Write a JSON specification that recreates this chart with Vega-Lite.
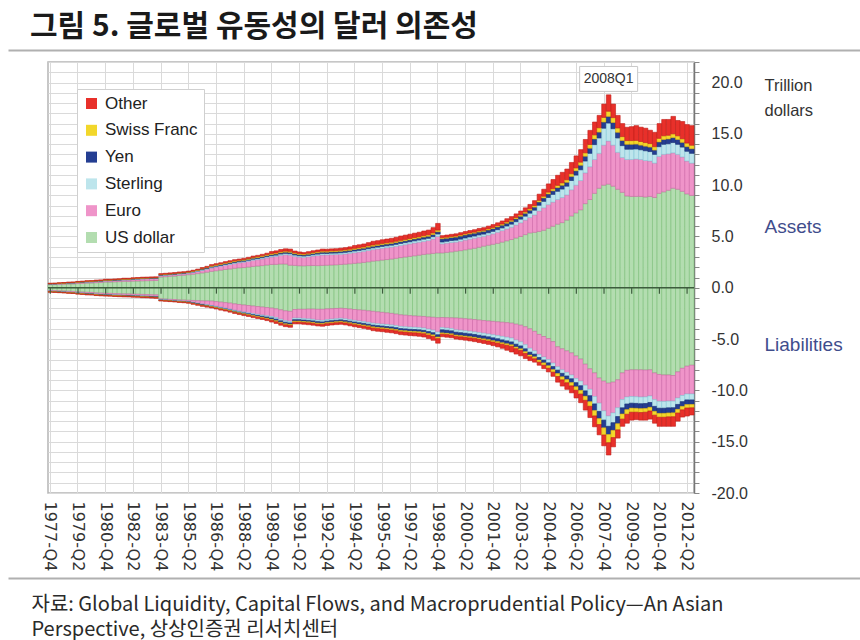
{
  "$schema": "https://vega.github.io/schema/vega-lite/v6.json",
  "width": 646,
  "height": 431,
  "autosize": {"type": "none"},
  "padding": {"left": 48, "top": 62, "right": 166, "bottom": 147},
  "background": "white",
  "title": {
    "text": "그림 5. 글로벌 유동성의 달러 의존성",
    "anchor": "start",
    "frame": "group",
    "dx": -18,
    "offset": 7,
    "font": "Noto Sans CJK KR",
    "fontSize": 30,
    "fontWeight": "bold",
    "color": "#1a1a1a"
  },
  "config": {
    "view": {"stroke": "#b5b5b5", "strokeWidth": 1.5},
    "font": "Liberation Sans"
  },
  "datasets": {
    "cur": [
      {"code": "usd", "name": "US dollar", "ord": 1},
      {"code": "eur", "name": "Euro", "ord": 2},
      {"code": "gbp", "name": "Sterling", "ord": 3},
      {"code": "jpy", "name": "Yen", "ord": 4},
      {"code": "chf", "name": "Swiss Franc", "ord": 5},
      {"code": "oth", "name": "Other", "ord": 6}
    ],
    "marks": [
      {"q": "1977-Q4"}, {"q": "1979-Q2"}, {"q": "1980-Q4"}, {"q": "1982-Q2"}, {"q": "1983-Q4"}, {"q": "1985-Q2"},
      {"q": "1986-Q4"}, {"q": "1988-Q2"}, {"q": "1989-Q4"}, {"q": "1991-Q2"}, {"q": "1992-Q4"}, {"q": "1994-Q2"},
      {"q": "1995-Q4"}, {"q": "1997-Q2"}, {"q": "1998-Q4"}, {"q": "2000-Q2"}, {"q": "2001-Q4"}, {"q": "2003-Q2"},
      {"q": "2004-Q4"}, {"q": "2006-Q2"}, {"q": "2007-Q4"}, {"q": "2009-Q2"}, {"q": "2010-Q4"}, {"q": "2012-Q2"}
    ]
  },
  "data": {"values": [
    {"q":"1977-Q4","s":"A","usd":0.30,"eur":0.05,"gbp":0.02,"jpy":0.01,"chf":0.03,"oth":0.04},
    {"q":"1978-Q1","s":"A","usd":0.31,"eur":0.05,"gbp":0.02,"jpy":0.01,"chf":0.03,"oth":0.04},
    {"q":"1978-Q2","s":"A","usd":0.33,"eur":0.06,"gbp":0.02,"jpy":0.01,"chf":0.03,"oth":0.04},
    {"q":"1978-Q3","s":"A","usd":0.35,"eur":0.06,"gbp":0.02,"jpy":0.01,"chf":0.03,"oth":0.04},
    {"q":"1978-Q4","s":"A","usd":0.37,"eur":0.07,"gbp":0.02,"jpy":0.02,"chf":0.03,"oth":0.05},
    {"q":"1979-Q1","s":"A","usd":0.38,"eur":0.07,"gbp":0.02,"jpy":0.02,"chf":0.03,"oth":0.05},
    {"q":"1979-Q2","s":"A","usd":0.41,"eur":0.08,"gbp":0.02,"jpy":0.02,"chf":0.04,"oth":0.05},
    {"q":"1979-Q3","s":"A","usd":0.43,"eur":0.08,"gbp":0.03,"jpy":0.02,"chf":0.04,"oth":0.05},
    {"q":"1979-Q4","s":"A","usd":0.46,"eur":0.09,"gbp":0.03,"jpy":0.02,"chf":0.04,"oth":0.05},
    {"q":"1980-Q1","s":"A","usd":0.47,"eur":0.09,"gbp":0.03,"jpy":0.02,"chf":0.04,"oth":0.05},
    {"q":"1980-Q2","s":"A","usd":0.50,"eur":0.10,"gbp":0.03,"jpy":0.02,"chf":0.04,"oth":0.06},
    {"q":"1980-Q3","s":"A","usd":0.52,"eur":0.10,"gbp":0.03,"jpy":0.02,"chf":0.04,"oth":0.06},
    {"q":"1980-Q4","s":"A","usd":0.56,"eur":0.11,"gbp":0.03,"jpy":0.03,"chf":0.04,"oth":0.06},
    {"q":"1981-Q1","s":"A","usd":0.56,"eur":0.11,"gbp":0.03,"jpy":0.03,"chf":0.04,"oth":0.06},
    {"q":"1981-Q2","s":"A","usd":0.58,"eur":0.12,"gbp":0.03,"jpy":0.03,"chf":0.04,"oth":0.06},
    {"q":"1981-Q3","s":"A","usd":0.60,"eur":0.12,"gbp":0.03,"jpy":0.03,"chf":0.04,"oth":0.06},
    {"q":"1981-Q4","s":"A","usd":0.63,"eur":0.13,"gbp":0.03,"jpy":0.03,"chf":0.04,"oth":0.07},
    {"q":"1982-Q1","s":"A","usd":0.62,"eur":0.14,"gbp":0.03,"jpy":0.03,"chf":0.04,"oth":0.07},
    {"q":"1982-Q2","s":"A","usd":0.65,"eur":0.15,"gbp":0.04,"jpy":0.03,"chf":0.04,"oth":0.07},
    {"q":"1982-Q3","s":"A","usd":0.66,"eur":0.16,"gbp":0.04,"jpy":0.03,"chf":0.04,"oth":0.07},
    {"q":"1982-Q4","s":"A","usd":0.68,"eur":0.17,"gbp":0.04,"jpy":0.03,"chf":0.04,"oth":0.07},
    {"q":"1983-Q1","s":"A","usd":0.69,"eur":0.17,"gbp":0.04,"jpy":0.03,"chf":0.04,"oth":0.07},
    {"q":"1983-Q2","s":"A","usd":0.70,"eur":0.18,"gbp":0.04,"jpy":0.03,"chf":0.04,"oth":0.07},
    {"q":"1983-Q3","s":"A","usd":0.71,"eur":0.18,"gbp":0.04,"jpy":0.03,"chf":0.04,"oth":0.07},
    {"q":"1983-Q4","s":"A","usd":1.05,"eur":0.12,"gbp":0.05,"jpy":0.04,"chf":0.04,"oth":0.08},
    {"q":"1984-Q1","s":"A","usd":1.08,"eur":0.12,"gbp":0.05,"jpy":0.04,"chf":0.04,"oth":0.08},
    {"q":"1984-Q2","s":"A","usd":1.12,"eur":0.12,"gbp":0.05,"jpy":0.04,"chf":0.04,"oth":0.08},
    {"q":"1984-Q3","s":"A","usd":1.14,"eur":0.13,"gbp":0.05,"jpy":0.04,"chf":0.04,"oth":0.08},
    {"q":"1984-Q4","s":"A","usd":1.20,"eur":0.13,"gbp":0.05,"jpy":0.04,"chf":0.04,"oth":0.08},
    {"q":"1985-Q1","s":"A","usd":1.22,"eur":0.14,"gbp":0.05,"jpy":0.04,"chf":0.04,"oth":0.08},
    {"q":"1985-Q2","s":"A","usd":1.28,"eur":0.14,"gbp":0.05,"jpy":0.04,"chf":0.04,"oth":0.08},
    {"q":"1985-Q3","s":"A","usd":1.32,"eur":0.17,"gbp":0.05,"jpy":0.05,"chf":0.04,"oth":0.08},
    {"q":"1985-Q4","s":"A","usd":1.38,"eur":0.20,"gbp":0.06,"jpy":0.05,"chf":0.05,"oth":0.08},
    {"q":"1986-Q1","s":"A","usd":1.45,"eur":0.24,"gbp":0.07,"jpy":0.06,"chf":0.06,"oth":0.09},
    {"q":"1986-Q2","s":"A","usd":1.52,"eur":0.28,"gbp":0.07,"jpy":0.06,"chf":0.06,"oth":0.10},
    {"q":"1986-Q3","s":"A","usd":1.60,"eur":0.33,"gbp":0.08,"jpy":0.07,"chf":0.07,"oth":0.11},
    {"q":"1986-Q4","s":"A","usd":1.66,"eur":0.36,"gbp":0.08,"jpy":0.07,"chf":0.07,"oth":0.11},
    {"q":"1987-Q1","s":"A","usd":1.72,"eur":0.38,"gbp":0.08,"jpy":0.08,"chf":0.07,"oth":0.11},
    {"q":"1987-Q2","s":"A","usd":1.78,"eur":0.41,"gbp":0.09,"jpy":0.08,"chf":0.07,"oth":0.12},
    {"q":"1987-Q3","s":"A","usd":1.84,"eur":0.43,"gbp":0.09,"jpy":0.08,"chf":0.08,"oth":0.12},
    {"q":"1987-Q4","s":"A","usd":1.90,"eur":0.46,"gbp":0.09,"jpy":0.09,"chf":0.08,"oth":0.12},
    {"q":"1988-Q1","s":"A","usd":1.95,"eur":0.49,"gbp":0.09,"jpy":0.08,"chf":0.08,"oth":0.11},
    {"q":"1988-Q2","s":"A","usd":1.97,"eur":0.52,"gbp":0.09,"jpy":0.09,"chf":0.08,"oth":0.12},
    {"q":"1988-Q3","s":"A","usd":2.02,"eur":0.56,"gbp":0.10,"jpy":0.09,"chf":0.08,"oth":0.12},
    {"q":"1988-Q4","s":"A","usd":2.08,"eur":0.60,"gbp":0.10,"jpy":0.10,"chf":0.08,"oth":0.13},
    {"q":"1989-Q1","s":"A","usd":2.12,"eur":0.62,"gbp":0.10,"jpy":0.10,"chf":0.09,"oth":0.13},
    {"q":"1989-Q2","s":"A","usd":2.16,"eur":0.66,"gbp":0.11,"jpy":0.10,"chf":0.09,"oth":0.14},
    {"q":"1989-Q3","s":"A","usd":2.22,"eur":0.70,"gbp":0.11,"jpy":0.11,"chf":0.09,"oth":0.14},
    {"q":"1989-Q4","s":"A","usd":2.27,"eur":0.73,"gbp":0.12,"jpy":0.11,"chf":0.10,"oth":0.20},
    {"q":"1990-Q1","s":"A","usd":2.28,"eur":0.78,"gbp":0.12,"jpy":0.11,"chf":0.10,"oth":0.21},
    {"q":"1990-Q2","s":"A","usd":2.32,"eur":0.84,"gbp":0.13,"jpy":0.12,"chf":0.10,"oth":0.22},
    {"q":"1990-Q3","s":"A","usd":2.32,"eur":0.90,"gbp":0.13,"jpy":0.12,"chf":0.10,"oth":0.23},
    {"q":"1990-Q4","s":"A","usd":2.20,"eur":0.98,"gbp":0.14,"jpy":0.13,"chf":0.10,"oth":0.22},
    {"q":"1991-Q1","s":"A","usd":2.18,"eur":0.88,"gbp":0.13,"jpy":0.12,"chf":0.09,"oth":0.18},
    {"q":"1991-Q2","s":"A","usd":2.15,"eur":0.84,"gbp":0.13,"jpy":0.12,"chf":0.09,"oth":0.16},
    {"q":"1991-Q3","s":"A","usd":2.14,"eur":0.82,"gbp":0.13,"jpy":0.11,"chf":0.09,"oth":0.15},
    {"q":"1991-Q4","s":"A","usd":2.16,"eur":0.86,"gbp":0.13,"jpy":0.12,"chf":0.09,"oth":0.16},
    {"q":"1992-Q1","s":"A","usd":2.17,"eur":0.92,"gbp":0.13,"jpy":0.12,"chf":0.10,"oth":0.17},
    {"q":"1992-Q2","s":"A","usd":2.16,"eur":0.98,"gbp":0.14,"jpy":0.12,"chf":0.10,"oth":0.18},
    {"q":"1992-Q3","s":"A","usd":2.18,"eur":1.02,"gbp":0.14,"jpy":0.13,"chf":0.10,"oth":0.20},
    {"q":"1992-Q4","s":"A","usd":2.20,"eur":1.00,"gbp":0.14,"jpy":0.13,"chf":0.10,"oth":0.19},
    {"q":"1993-Q1","s":"A","usd":2.22,"eur":1.01,"gbp":0.14,"jpy":0.13,"chf":0.10,"oth":0.19},
    {"q":"1993-Q2","s":"A","usd":2.24,"eur":1.00,"gbp":0.14,"jpy":0.13,"chf":0.10,"oth":0.20},
    {"q":"1993-Q3","s":"A","usd":2.27,"eur":0.99,"gbp":0.15,"jpy":0.14,"chf":0.10,"oth":0.21},
    {"q":"1993-Q4","s":"A","usd":2.30,"eur":1.00,"gbp":0.15,"jpy":0.14,"chf":0.10,"oth":0.22},
    {"q":"1994-Q1","s":"A","usd":2.34,"eur":1.02,"gbp":0.15,"jpy":0.14,"chf":0.11,"oth":0.23},
    {"q":"1994-Q2","s":"A","usd":2.38,"eur":1.04,"gbp":0.16,"jpy":0.15,"chf":0.11,"oth":0.28},
    {"q":"1994-Q3","s":"A","usd":2.42,"eur":1.06,"gbp":0.16,"jpy":0.15,"chf":0.11,"oth":0.29},
    {"q":"1994-Q4","s":"A","usd":2.47,"eur":1.08,"gbp":0.16,"jpy":0.15,"chf":0.11,"oth":0.30},
    {"q":"1995-Q1","s":"A","usd":2.53,"eur":1.10,"gbp":0.17,"jpy":0.16,"chf":0.12,"oth":0.32},
    {"q":"1995-Q2","s":"A","usd":2.60,"eur":1.12,"gbp":0.17,"jpy":0.16,"chf":0.12,"oth":0.36},
    {"q":"1995-Q3","s":"A","usd":2.64,"eur":1.14,"gbp":0.18,"jpy":0.16,"chf":0.12,"oth":0.35},
    {"q":"1995-Q4","s":"A","usd":2.70,"eur":1.15,"gbp":0.18,"jpy":0.17,"chf":0.12,"oth":0.36},
    {"q":"1996-Q1","s":"A","usd":2.75,"eur":1.16,"gbp":0.18,"jpy":0.17,"chf":0.12,"oth":0.37},
    {"q":"1996-Q2","s":"A","usd":2.80,"eur":1.16,"gbp":0.19,"jpy":0.17,"chf":0.12,"oth":0.38},
    {"q":"1996-Q3","s":"A","usd":2.87,"eur":1.17,"gbp":0.19,"jpy":0.18,"chf":0.12,"oth":0.39},
    {"q":"1996-Q4","s":"A","usd":2.94,"eur":1.18,"gbp":0.20,"jpy":0.18,"chf":0.12,"oth":0.42},
    {"q":"1997-Q1","s":"A","usd":3.00,"eur":1.20,"gbp":0.20,"jpy":0.18,"chf":0.13,"oth":0.42},
    {"q":"1997-Q2","s":"A","usd":3.06,"eur":1.22,"gbp":0.20,"jpy":0.19,"chf":0.13,"oth":0.42},
    {"q":"1997-Q3","s":"A","usd":3.12,"eur":1.24,"gbp":0.21,"jpy":0.19,"chf":0.13,"oth":0.43},
    {"q":"1997-Q4","s":"A","usd":3.18,"eur":1.26,"gbp":0.21,"jpy":0.19,"chf":0.13,"oth":0.44},
    {"q":"1998-Q1","s":"A","usd":3.25,"eur":1.27,"gbp":0.22,"jpy":0.20,"chf":0.13,"oth":0.46},
    {"q":"1998-Q2","s":"A","usd":3.30,"eur":1.30,"gbp":0.22,"jpy":0.20,"chf":0.14,"oth":0.46},
    {"q":"1998-Q3","s":"A","usd":3.35,"eur":1.40,"gbp":0.23,"jpy":0.21,"chf":0.15,"oth":0.52},
    {"q":"1998-Q4","s":"A","usd":3.40,"eur":1.60,"gbp":0.24,"jpy":0.22,"chf":0.16,"oth":0.65},
    {"q":"1999-Q1","s":"A","usd":3.40,"eur":0.88,"gbp":0.18,"jpy":0.32,"chf":0.10,"oth":0.20},
    {"q":"1999-Q2","s":"A","usd":3.45,"eur":0.90,"gbp":0.18,"jpy":0.30,"chf":0.10,"oth":0.21},
    {"q":"1999-Q3","s":"A","usd":3.50,"eur":0.91,"gbp":0.19,"jpy":0.30,"chf":0.10,"oth":0.21},
    {"q":"1999-Q4","s":"A","usd":3.57,"eur":0.88,"gbp":0.19,"jpy":0.30,"chf":0.10,"oth":0.22},
    {"q":"2000-Q1","s":"A","usd":3.62,"eur":0.92,"gbp":0.20,"jpy":0.30,"chf":0.10,"oth":0.23},
    {"q":"2000-Q2","s":"A","usd":3.70,"eur":0.95,"gbp":0.20,"jpy":0.30,"chf":0.10,"oth":0.23},
    {"q":"2000-Q3","s":"A","usd":3.78,"eur":0.96,"gbp":0.21,"jpy":0.29,"chf":0.10,"oth":0.24},
    {"q":"2000-Q4","s":"A","usd":3.85,"eur":0.98,"gbp":0.21,"jpy":0.28,"chf":0.10,"oth":0.24},
    {"q":"2001-Q1","s":"A","usd":3.95,"eur":0.98,"gbp":0.22,"jpy":0.28,"chf":0.10,"oth":0.25},
    {"q":"2001-Q2","s":"A","usd":4.06,"eur":0.95,"gbp":0.22,"jpy":0.27,"chf":0.10,"oth":0.26},
    {"q":"2001-Q3","s":"A","usd":4.15,"eur":0.98,"gbp":0.23,"jpy":0.27,"chf":0.11,"oth":0.27},
    {"q":"2001-Q4","s":"A","usd":4.24,"eur":1.02,"gbp":0.24,"jpy":0.27,"chf":0.11,"oth":0.28},
    {"q":"2002-Q1","s":"A","usd":4.33,"eur":1.08,"gbp":0.25,"jpy":0.27,"chf":0.11,"oth":0.29},
    {"q":"2002-Q2","s":"A","usd":4.45,"eur":1.12,"gbp":0.26,"jpy":0.27,"chf":0.11,"oth":0.30},
    {"q":"2002-Q3","s":"A","usd":4.58,"eur":1.16,"gbp":0.28,"jpy":0.27,"chf":0.12,"oth":0.32},
    {"q":"2002-Q4","s":"A","usd":4.70,"eur":1.20,"gbp":0.30,"jpy":0.27,"chf":0.12,"oth":0.34},
    {"q":"2003-Q1","s":"A","usd":4.85,"eur":1.27,"gbp":0.32,"jpy":0.28,"chf":0.12,"oth":0.36},
    {"q":"2003-Q2","s":"A","usd":5.00,"eur":1.34,"gbp":0.35,"jpy":0.28,"chf":0.13,"oth":0.38},
    {"q":"2003-Q3","s":"A","usd":5.18,"eur":1.42,"gbp":0.38,"jpy":0.28,"chf":0.13,"oth":0.40},
    {"q":"2003-Q4","s":"A","usd":5.35,"eur":1.50,"gbp":0.42,"jpy":0.29,"chf":0.14,"oth":0.42},
    {"q":"2004-Q1","s":"A","usd":5.40,"eur":1.70,"gbp":0.46,"jpy":0.30,"chf":0.15,"oth":0.48},
    {"q":"2004-Q2","s":"A","usd":5.49,"eur":2.00,"gbp":0.55,"jpy":0.32,"chf":0.16,"oth":0.60},
    {"q":"2004-Q3","s":"A","usd":5.60,"eur":2.20,"gbp":0.62,"jpy":0.33,"chf":0.17,"oth":0.68},
    {"q":"2004-Q4","s":"A","usd":5.80,"eur":2.30,"gbp":0.70,"jpy":0.34,"chf":0.18,"oth":0.80},
    {"q":"2005-Q1","s":"A","usd":6.00,"eur":2.35,"gbp":0.75,"jpy":0.35,"chf":0.20,"oth":0.90},
    {"q":"2005-Q2","s":"A","usd":6.20,"eur":2.40,"gbp":0.80,"jpy":0.36,"chf":0.22,"oth":0.98},
    {"q":"2005-Q3","s":"A","usd":6.35,"eur":2.45,"gbp":0.82,"jpy":0.37,"chf":0.23,"oth":1.03},
    {"q":"2005-Q4","s":"A","usd":6.60,"eur":2.45,"gbp":0.85,"jpy":0.38,"chf":0.24,"oth":1.05},
    {"q":"2006-Q1","s":"A","usd":7.00,"eur":2.55,"gbp":0.90,"jpy":0.40,"chf":0.26,"oth":1.10},
    {"q":"2006-Q2","s":"A","usd":7.30,"eur":2.70,"gbp":0.98,"jpy":0.42,"chf":0.28,"oth":1.17},
    {"q":"2006-Q3","s":"A","usd":7.60,"eur":2.85,"gbp":1.05,"jpy":0.44,"chf":0.30,"oth":1.22},
    {"q":"2006-Q4","s":"A","usd":8.20,"eur":3.00,"gbp":1.15,"jpy":0.47,"chf":0.33,"oth":1.30},
    {"q":"2007-Q1","s":"A","usd":8.60,"eur":3.20,"gbp":1.30,"jpy":0.50,"chf":0.36,"oth":1.38},
    {"q":"2007-Q2","s":"A","usd":9.20,"eur":3.30,"gbp":1.45,"jpy":0.55,"chf":0.40,"oth":1.25},
    {"q":"2007-Q3","s":"A","usd":9.70,"eur":3.40,"gbp":1.50,"jpy":0.57,"chf":0.42,"oth":1.21},
    {"q":"2007-Q4","s":"A","usd":10.00,"eur":3.90,"gbp":1.65,"jpy":0.60,"chf":0.45,"oth":1.30},
    {"q":"2008-Q1","s":"A","usd":10.10,"eur":4.20,"gbp":1.75,"jpy":0.65,"chf":0.50,"oth":1.60},
    {"q":"2008-Q2","s":"A","usd":9.90,"eur":4.00,"gbp":1.60,"jpy":0.60,"chf":0.48,"oth":1.32},
    {"q":"2008-Q3","s":"A","usd":9.60,"eur":3.60,"gbp":1.40,"jpy":0.55,"chf":0.42,"oth":1.23},
    {"q":"2008-Q4","s":"A","usd":9.30,"eur":3.40,"gbp":1.15,"jpy":0.50,"chf":0.38,"oth":1.27},
    {"q":"2009-Q1","s":"A","usd":8.95,"eur":3.55,"gbp":1.00,"jpy":0.48,"chf":0.36,"oth":1.30},
    {"q":"2009-Q2","s":"A","usd":8.90,"eur":3.60,"gbp":1.00,"jpy":0.48,"chf":0.36,"oth":1.36},
    {"q":"2009-Q3","s":"A","usd":8.90,"eur":3.65,"gbp":0.98,"jpy":0.47,"chf":0.36,"oth":1.44},
    {"q":"2009-Q4","s":"A","usd":8.90,"eur":3.60,"gbp":0.95,"jpy":0.45,"chf":0.35,"oth":1.40},
    {"q":"2010-Q1","s":"A","usd":8.85,"eur":3.55,"gbp":0.95,"jpy":0.45,"chf":0.35,"oth":1.40},
    {"q":"2010-Q2","s":"A","usd":8.90,"eur":3.45,"gbp":0.92,"jpy":0.44,"chf":0.34,"oth":1.30},
    {"q":"2010-Q3","s":"A","usd":8.80,"eur":3.35,"gbp":0.85,"jpy":0.42,"chf":0.33,"oth":1.40},
    {"q":"2010-Q4","s":"A","usd":9.20,"eur":3.60,"gbp":0.95,"jpy":0.46,"chf":0.35,"oth":1.44},
    {"q":"2011-Q1","s":"A","usd":9.35,"eur":3.65,"gbp":0.98,"jpy":0.47,"chf":0.36,"oth":1.59},
    {"q":"2011-Q2","s":"A","usd":9.50,"eur":3.55,"gbp":0.98,"jpy":0.47,"chf":0.36,"oth":1.54},
    {"q":"2011-Q3","s":"A","usd":9.70,"eur":3.45,"gbp":1.00,"jpy":0.48,"chf":0.37,"oth":1.70},
    {"q":"2011-Q4","s":"A","usd":9.60,"eur":3.40,"gbp":0.98,"jpy":0.47,"chf":0.36,"oth":1.49},
    {"q":"2012-Q1","s":"A","usd":9.40,"eur":3.35,"gbp":0.96,"jpy":0.46,"chf":0.35,"oth":1.68},
    {"q":"2012-Q2","s":"A","usd":9.15,"eur":3.20,"gbp":0.95,"jpy":0.45,"chf":0.35,"oth":1.80},
    {"q":"2012-Q3","s":"A","usd":9.00,"eur":3.15,"gbp":0.95,"jpy":0.45,"chf":0.34,"oth":1.91},
    {"q":"1977-Q4","s":"L","usd":-0.26,"eur":-0.06,"gbp":-0.03,"jpy":-0.02,"chf":-0.03,"oth":-0.03},
    {"q":"1978-Q1","s":"L","usd":-0.28,"eur":-0.06,"gbp":-0.03,"jpy":-0.02,"chf":-0.03,"oth":-0.03},
    {"q":"1978-Q2","s":"L","usd":-0.30,"eur":-0.07,"gbp":-0.03,"jpy":-0.02,"chf":-0.03,"oth":-0.03},
    {"q":"1978-Q3","s":"L","usd":-0.32,"eur":-0.07,"gbp":-0.03,"jpy":-0.02,"chf":-0.03,"oth":-0.04},
    {"q":"1978-Q4","s":"L","usd":-0.34,"eur":-0.08,"gbp":-0.03,"jpy":-0.02,"chf":-0.03,"oth":-0.04},
    {"q":"1979-Q1","s":"L","usd":-0.36,"eur":-0.08,"gbp":-0.03,"jpy":-0.02,"chf":-0.03,"oth":-0.04},
    {"q":"1979-Q2","s":"L","usd":-0.40,"eur":-0.09,"gbp":-0.03,"jpy":-0.02,"chf":-0.04,"oth":-0.04},
    {"q":"1979-Q3","s":"L","usd":-0.42,"eur":-0.09,"gbp":-0.03,"jpy":-0.03,"chf":-0.04,"oth":-0.04},
    {"q":"1979-Q4","s":"L","usd":-0.45,"eur":-0.10,"gbp":-0.03,"jpy":-0.03,"chf":-0.04,"oth":-0.05},
    {"q":"1980-Q1","s":"L","usd":-0.46,"eur":-0.10,"gbp":-0.03,"jpy":-0.03,"chf":-0.04,"oth":-0.05},
    {"q":"1980-Q2","s":"L","usd":-0.50,"eur":-0.10,"gbp":-0.04,"jpy":-0.03,"chf":-0.04,"oth":-0.05},
    {"q":"1980-Q3","s":"L","usd":-0.52,"eur":-0.11,"gbp":-0.04,"jpy":-0.03,"chf":-0.04,"oth":-0.05},
    {"q":"1980-Q4","s":"L","usd":-0.54,"eur":-0.11,"gbp":-0.04,"jpy":-0.03,"chf":-0.04,"oth":-0.05},
    {"q":"1981-Q1","s":"L","usd":-0.55,"eur":-0.11,"gbp":-0.04,"jpy":-0.03,"chf":-0.04,"oth":-0.05},
    {"q":"1981-Q2","s":"L","usd":-0.57,"eur":-0.12,"gbp":-0.04,"jpy":-0.03,"chf":-0.04,"oth":-0.05},
    {"q":"1981-Q3","s":"L","usd":-0.58,"eur":-0.12,"gbp":-0.04,"jpy":-0.03,"chf":-0.04,"oth":-0.06},
    {"q":"1981-Q4","s":"L","usd":-0.60,"eur":-0.12,"gbp":-0.04,"jpy":-0.03,"chf":-0.04,"oth":-0.06},
    {"q":"1982-Q1","s":"L","usd":-0.60,"eur":-0.13,"gbp":-0.04,"jpy":-0.03,"chf":-0.04,"oth":-0.06},
    {"q":"1982-Q2","s":"L","usd":-0.62,"eur":-0.13,"gbp":-0.04,"jpy":-0.03,"chf":-0.04,"oth":-0.06},
    {"q":"1982-Q3","s":"L","usd":-0.63,"eur":-0.13,"gbp":-0.04,"jpy":-0.03,"chf":-0.04,"oth":-0.06},
    {"q":"1982-Q4","s":"L","usd":-0.65,"eur":-0.14,"gbp":-0.04,"jpy":-0.04,"chf":-0.04,"oth":-0.06},
    {"q":"1983-Q1","s":"L","usd":-0.66,"eur":-0.14,"gbp":-0.04,"jpy":-0.04,"chf":-0.04,"oth":-0.06},
    {"q":"1983-Q2","s":"L","usd":-0.68,"eur":-0.14,"gbp":-0.04,"jpy":-0.04,"chf":-0.04,"oth":-0.07},
    {"q":"1983-Q3","s":"L","usd":-0.69,"eur":-0.15,"gbp":-0.04,"jpy":-0.04,"chf":-0.04,"oth":-0.07},
    {"q":"1983-Q4","s":"L","usd":-1.08,"eur":-0.08,"gbp":-0.03,"jpy":-0.03,"chf":-0.03,"oth":-0.04},
    {"q":"1984-Q1","s":"L","usd":-1.10,"eur":-0.08,"gbp":-0.03,"jpy":-0.03,"chf":-0.03,"oth":-0.05},
    {"q":"1984-Q2","s":"L","usd":-1.13,"eur":-0.08,"gbp":-0.03,"jpy":-0.03,"chf":-0.03,"oth":-0.05},
    {"q":"1984-Q3","s":"L","usd":-1.15,"eur":-0.09,"gbp":-0.04,"jpy":-0.03,"chf":-0.03,"oth":-0.05},
    {"q":"1984-Q4","s":"L","usd":-1.18,"eur":-0.09,"gbp":-0.04,"jpy":-0.03,"chf":-0.04,"oth":-0.05},
    {"q":"1985-Q1","s":"L","usd":-1.20,"eur":-0.10,"gbp":-0.04,"jpy":-0.03,"chf":-0.04,"oth":-0.05},
    {"q":"1985-Q2","s":"L","usd":-1.22,"eur":-0.12,"gbp":-0.04,"jpy":-0.03,"chf":-0.04,"oth":-0.06},
    {"q":"1985-Q3","s":"L","usd":-1.24,"eur":-0.18,"gbp":-0.05,"jpy":-0.04,"chf":-0.04,"oth":-0.06},
    {"q":"1985-Q4","s":"L","usd":-1.26,"eur":-0.24,"gbp":-0.05,"jpy":-0.04,"chf":-0.05,"oth":-0.07},
    {"q":"1986-Q1","s":"L","usd":-1.28,"eur":-0.30,"gbp":-0.06,"jpy":-0.05,"chf":-0.05,"oth":-0.07},
    {"q":"1986-Q2","s":"L","usd":-1.29,"eur":-0.36,"gbp":-0.06,"jpy":-0.05,"chf":-0.05,"oth":-0.08},
    {"q":"1986-Q3","s":"L","usd":-1.30,"eur":-0.43,"gbp":-0.06,"jpy":-0.05,"chf":-0.05,"oth":-0.08},
    {"q":"1986-Q4","s":"L","usd":-1.35,"eur":-0.46,"gbp":-0.07,"jpy":-0.05,"chf":-0.06,"oth":-0.08},
    {"q":"1987-Q1","s":"L","usd":-1.40,"eur":-0.50,"gbp":-0.07,"jpy":-0.06,"chf":-0.06,"oth":-0.09},
    {"q":"1987-Q2","s":"L","usd":-1.45,"eur":-0.54,"gbp":-0.07,"jpy":-0.06,"chf":-0.06,"oth":-0.09},
    {"q":"1987-Q3","s":"L","usd":-1.50,"eur":-0.58,"gbp":-0.08,"jpy":-0.06,"chf":-0.06,"oth":-0.10},
    {"q":"1987-Q4","s":"L","usd":-1.57,"eur":-0.62,"gbp":-0.08,"jpy":-0.07,"chf":-0.07,"oth":-0.10},
    {"q":"1988-Q1","s":"L","usd":-1.63,"eur":-0.65,"gbp":-0.08,"jpy":-0.07,"chf":-0.07,"oth":-0.11},
    {"q":"1988-Q2","s":"L","usd":-1.68,"eur":-0.68,"gbp":-0.09,"jpy":-0.08,"chf":-0.07,"oth":-0.11},
    {"q":"1988-Q3","s":"L","usd":-1.73,"eur":-0.71,"gbp":-0.09,"jpy":-0.08,"chf":-0.07,"oth":-0.12},
    {"q":"1988-Q4","s":"L","usd":-1.78,"eur":-0.74,"gbp":-0.10,"jpy":-0.09,"chf":-0.08,"oth":-0.12},
    {"q":"1989-Q1","s":"L","usd":-1.83,"eur":-0.76,"gbp":-0.10,"jpy":-0.10,"chf":-0.08,"oth":-0.13},
    {"q":"1989-Q2","s":"L","usd":-1.88,"eur":-0.78,"gbp":-0.11,"jpy":-0.11,"chf":-0.08,"oth":-0.13},
    {"q":"1989-Q3","s":"L","usd":-1.93,"eur":-0.80,"gbp":-0.12,"jpy":-0.12,"chf":-0.09,"oth":-0.14},
    {"q":"1989-Q4","s":"L","usd":-1.98,"eur":-0.82,"gbp":-0.14,"jpy":-0.14,"chf":-0.10,"oth":-0.16},
    {"q":"1990-Q1","s":"L","usd":-2.05,"eur":-0.86,"gbp":-0.15,"jpy":-0.15,"chf":-0.10,"oth":-0.17},
    {"q":"1990-Q2","s":"L","usd":-2.15,"eur":-0.92,"gbp":-0.15,"jpy":-0.15,"chf":-0.10,"oth":-0.18},
    {"q":"1990-Q3","s":"L","usd":-2.25,"eur":-0.96,"gbp":-0.15,"jpy":-0.15,"chf":-0.10,"oth":-0.18},
    {"q":"1990-Q4","s":"L","usd":-2.30,"eur":-0.98,"gbp":-0.15,"jpy":-0.14,"chf":-0.10,"oth":-0.18},
    {"q":"1991-Q1","s":"L","usd":-2.12,"eur":-0.84,"gbp":-0.15,"jpy":-0.14,"chf":-0.10,"oth":-0.17},
    {"q":"1991-Q2","s":"L","usd":-2.10,"eur":-0.86,"gbp":-0.15,"jpy":-0.14,"chf":-0.10,"oth":-0.17},
    {"q":"1991-Q3","s":"L","usd":-2.10,"eur":-0.90,"gbp":-0.15,"jpy":-0.14,"chf":-0.10,"oth":-0.17},
    {"q":"1991-Q4","s":"L","usd":-2.08,"eur":-0.95,"gbp":-0.15,"jpy":-0.14,"chf":-0.10,"oth":-0.18},
    {"q":"1992-Q1","s":"L","usd":-2.08,"eur":-1.00,"gbp":-0.15,"jpy":-0.14,"chf":-0.10,"oth":-0.18},
    {"q":"1992-Q2","s":"L","usd":-2.10,"eur":-1.05,"gbp":-0.15,"jpy":-0.14,"chf":-0.10,"oth":-0.18},
    {"q":"1992-Q3","s":"L","usd":-2.10,"eur":-1.08,"gbp":-0.15,"jpy":-0.14,"chf":-0.10,"oth":-0.18},
    {"q":"1992-Q4","s":"L","usd":-2.06,"eur":-1.05,"gbp":-0.15,"jpy":-0.14,"chf":-0.10,"oth":-0.18},
    {"q":"1993-Q1","s":"L","usd":-2.04,"eur":-1.02,"gbp":-0.15,"jpy":-0.14,"chf":-0.10,"oth":-0.18},
    {"q":"1993-Q2","s":"L","usd":-2.02,"eur":-1.00,"gbp":-0.15,"jpy":-0.14,"chf":-0.10,"oth":-0.18},
    {"q":"1993-Q3","s":"L","usd":-2.00,"eur":-0.98,"gbp":-0.15,"jpy":-0.14,"chf":-0.10,"oth":-0.19},
    {"q":"1993-Q4","s":"L","usd":-2.03,"eur":-1.00,"gbp":-0.16,"jpy":-0.14,"chf":-0.10,"oth":-0.19},
    {"q":"1994-Q1","s":"L","usd":-2.07,"eur":-1.03,"gbp":-0.16,"jpy":-0.15,"chf":-0.10,"oth":-0.20},
    {"q":"1994-Q2","s":"L","usd":-2.12,"eur":-1.06,"gbp":-0.16,"jpy":-0.15,"chf":-0.11,"oth":-0.20},
    {"q":"1994-Q3","s":"L","usd":-2.16,"eur":-1.08,"gbp":-0.17,"jpy":-0.15,"chf":-0.11,"oth":-0.21},
    {"q":"1994-Q4","s":"L","usd":-2.20,"eur":-1.10,"gbp":-0.17,"jpy":-0.16,"chf":-0.11,"oth":-0.22},
    {"q":"1995-Q1","s":"L","usd":-2.25,"eur":-1.12,"gbp":-0.18,"jpy":-0.16,"chf":-0.11,"oth":-0.23},
    {"q":"1995-Q2","s":"L","usd":-2.30,"eur":-1.15,"gbp":-0.19,"jpy":-0.17,"chf":-0.12,"oth":-0.25},
    {"q":"1995-Q3","s":"L","usd":-2.35,"eur":-1.15,"gbp":-0.19,"jpy":-0.17,"chf":-0.12,"oth":-0.26},
    {"q":"1995-Q4","s":"L","usd":-2.40,"eur":-1.14,"gbp":-0.19,"jpy":-0.17,"chf":-0.12,"oth":-0.26},
    {"q":"1996-Q1","s":"L","usd":-2.45,"eur":-1.13,"gbp":-0.20,"jpy":-0.17,"chf":-0.12,"oth":-0.27},
    {"q":"1996-Q2","s":"L","usd":-2.50,"eur":-1.12,"gbp":-0.20,"jpy":-0.18,"chf":-0.12,"oth":-0.27},
    {"q":"1996-Q3","s":"L","usd":-2.57,"eur":-1.12,"gbp":-0.20,"jpy":-0.18,"chf":-0.12,"oth":-0.28},
    {"q":"1996-Q4","s":"L","usd":-2.64,"eur":-1.13,"gbp":-0.21,"jpy":-0.18,"chf":-0.13,"oth":-0.28},
    {"q":"1997-Q1","s":"L","usd":-2.68,"eur":-1.12,"gbp":-0.21,"jpy":-0.18,"chf":-0.13,"oth":-0.29},
    {"q":"1997-Q2","s":"L","usd":-2.72,"eur":-1.11,"gbp":-0.22,"jpy":-0.19,"chf":-0.13,"oth":-0.29},
    {"q":"1997-Q3","s":"L","usd":-2.75,"eur":-1.10,"gbp":-0.22,"jpy":-0.19,"chf":-0.13,"oth":-0.30},
    {"q":"1997-Q4","s":"L","usd":-2.78,"eur":-1.10,"gbp":-0.22,"jpy":-0.19,"chf":-0.13,"oth":-0.31},
    {"q":"1998-Q1","s":"L","usd":-2.80,"eur":-1.12,"gbp":-0.23,"jpy":-0.19,"chf":-0.14,"oth":-0.32},
    {"q":"1998-Q2","s":"L","usd":-2.85,"eur":-1.18,"gbp":-0.24,"jpy":-0.20,"chf":-0.14,"oth":-0.34},
    {"q":"1998-Q3","s":"L","usd":-2.88,"eur":-1.25,"gbp":-0.25,"jpy":-0.21,"chf":-0.15,"oth":-0.38},
    {"q":"1998-Q4","s":"L","usd":-2.92,"eur":-1.40,"gbp":-0.26,"jpy":-0.22,"chf":-0.16,"oth":-0.44},
    {"q":"1999-Q1","s":"L","usd":-2.90,"eur":-0.98,"gbp":-0.22,"jpy":-0.30,"chf":-0.12,"oth":-0.25},
    {"q":"1999-Q2","s":"L","usd":-2.92,"eur":-1.00,"gbp":-0.22,"jpy":-0.30,"chf":-0.12,"oth":-0.26},
    {"q":"1999-Q3","s":"L","usd":-2.93,"eur":-1.05,"gbp":-0.22,"jpy":-0.29,"chf":-0.12,"oth":-0.26},
    {"q":"1999-Q4","s":"L","usd":-2.95,"eur":-1.15,"gbp":-0.23,"jpy":-0.28,"chf":-0.12,"oth":-0.27},
    {"q":"2000-Q1","s":"L","usd":-2.98,"eur":-1.16,"gbp":-0.24,"jpy":-0.28,"chf":-0.12,"oth":-0.28},
    {"q":"2000-Q2","s":"L","usd":-3.02,"eur":-1.17,"gbp":-0.24,"jpy":-0.28,"chf":-0.12,"oth":-0.28},
    {"q":"2000-Q3","s":"L","usd":-3.06,"eur":-1.18,"gbp":-0.25,"jpy":-0.28,"chf":-0.12,"oth":-0.29},
    {"q":"2000-Q4","s":"L","usd":-3.10,"eur":-1.20,"gbp":-0.25,"jpy":-0.28,"chf":-0.12,"oth":-0.30},
    {"q":"2001-Q1","s":"L","usd":-3.15,"eur":-1.22,"gbp":-0.26,"jpy":-0.28,"chf":-0.12,"oth":-0.31},
    {"q":"2001-Q2","s":"L","usd":-3.20,"eur":-1.23,"gbp":-0.27,"jpy":-0.28,"chf":-0.13,"oth":-0.32},
    {"q":"2001-Q3","s":"L","usd":-3.24,"eur":-1.26,"gbp":-0.28,"jpy":-0.28,"chf":-0.13,"oth":-0.33},
    {"q":"2001-Q4","s":"L","usd":-3.28,"eur":-1.30,"gbp":-0.30,"jpy":-0.28,"chf":-0.13,"oth":-0.35},
    {"q":"2002-Q1","s":"L","usd":-3.32,"eur":-1.33,"gbp":-0.32,"jpy":-0.28,"chf":-0.14,"oth":-0.37},
    {"q":"2002-Q2","s":"L","usd":-3.36,"eur":-1.38,"gbp":-0.34,"jpy":-0.28,"chf":-0.14,"oth":-0.40},
    {"q":"2002-Q3","s":"L","usd":-3.40,"eur":-1.42,"gbp":-0.36,"jpy":-0.28,"chf":-0.15,"oth":-0.48},
    {"q":"2002-Q4","s":"L","usd":-3.45,"eur":-1.45,"gbp":-0.38,"jpy":-0.28,"chf":-0.15,"oth":-0.55},
    {"q":"2003-Q1","s":"L","usd":-3.55,"eur":-1.55,"gbp":-0.40,"jpy":-0.28,"chf":-0.16,"oth":-0.52},
    {"q":"2003-Q2","s":"L","usd":-3.65,"eur":-1.62,"gbp":-0.40,"jpy":-0.28,"chf":-0.16,"oth":-0.52},
    {"q":"2003-Q3","s":"L","usd":-3.80,"eur":-1.75,"gbp":-0.40,"jpy":-0.28,"chf":-0.17,"oth":-0.50},
    {"q":"2003-Q4","s":"L","usd":-4.00,"eur":-1.90,"gbp":-0.38,"jpy":-0.27,"chf":-0.17,"oth":-0.38},
    {"q":"2004-Q1","s":"L","usd":-4.25,"eur":-1.90,"gbp":-0.32,"jpy":-0.26,"chf":-0.19,"oth":-0.33},
    {"q":"2004-Q2","s":"L","usd":-4.55,"eur":-1.95,"gbp":-0.30,"jpy":-0.25,"chf":-0.20,"oth":-0.30},
    {"q":"2004-Q3","s":"L","usd":-4.75,"eur":-2.00,"gbp":-0.30,"jpy":-0.27,"chf":-0.23,"oth":-0.33},
    {"q":"2004-Q4","s":"L","usd":-4.95,"eur":-2.05,"gbp":-0.32,"jpy":-0.28,"chf":-0.24,"oth":-0.36},
    {"q":"2005-Q1","s":"L","usd":-5.25,"eur":-2.10,"gbp":-0.33,"jpy":-0.30,"chf":-0.25,"oth":-0.40},
    {"q":"2005-Q2","s":"L","usd":-5.75,"eur":-1.95,"gbp":-0.33,"jpy":-0.33,"chf":-0.29,"oth":-0.55},
    {"q":"2005-Q3","s":"L","usd":-5.95,"eur":-2.05,"gbp":-0.34,"jpy":-0.34,"chf":-0.30,"oth":-0.60},
    {"q":"2005-Q4","s":"L","usd":-6.15,"eur":-2.10,"gbp":-0.35,"jpy":-0.35,"chf":-0.31,"oth":-0.64},
    {"q":"2006-Q1","s":"L","usd":-6.35,"eur":-2.15,"gbp":-0.37,"jpy":-0.37,"chf":-0.32,"oth":-0.68},
    {"q":"2006-Q2","s":"L","usd":-6.65,"eur":-2.20,"gbp":-0.40,"jpy":-0.40,"chf":-0.34,"oth":-0.75},
    {"q":"2006-Q3","s":"L","usd":-6.95,"eur":-2.15,"gbp":-0.45,"jpy":-0.45,"chf":-0.36,"oth":-0.84},
    {"q":"2006-Q4","s":"L","usd":-7.45,"eur":-2.05,"gbp":-0.55,"jpy":-0.52,"chf":-0.40,"oth":-0.95},
    {"q":"2007-Q1","s":"L","usd":-7.90,"eur":-2.00,"gbp":-0.62,"jpy":-0.58,"chf":-0.45,"oth":-1.10},
    {"q":"2007-Q2","s":"L","usd":-8.30,"eur":-2.30,"gbp":-0.72,"jpy":-0.65,"chf":-0.52,"oth":-1.06},
    {"q":"2007-Q3","s":"L","usd":-8.80,"eur":-2.45,"gbp":-0.80,"jpy":-0.70,"chf":-0.58,"oth":-1.00},
    {"q":"2007-Q4","s":"L","usd":-9.10,"eur":-2.90,"gbp":-0.90,"jpy":-0.75,"chf":-0.70,"oth":-1.05},
    {"q":"2008-Q1","s":"L","usd":-9.30,"eur":-3.20,"gbp":-1.00,"jpy":-0.80,"chf":-0.80,"oth":-1.20},
    {"q":"2008-Q2","s":"L","usd":-9.20,"eur":-3.00,"gbp":-0.95,"jpy":-0.75,"chf":-0.70,"oth":-0.90},
    {"q":"2008-Q3","s":"L","usd":-8.97,"eur":-2.73,"gbp":-0.85,"jpy":-0.70,"chf":-0.60,"oth":-0.80},
    {"q":"2008-Q4","s":"L","usd":-8.30,"eur":-2.60,"gbp":-0.80,"jpy":-0.60,"chf":-0.50,"oth":-0.70},
    {"q":"2009-Q1","s":"L","usd":-8.05,"eur":-2.60,"gbp":-0.68,"jpy":-0.55,"chf":-0.45,"oth":-0.87},
    {"q":"2009-Q2","s":"L","usd":-8.00,"eur":-2.60,"gbp":-0.65,"jpy":-0.48,"chf":-0.40,"oth":-0.77},
    {"q":"2009-Q3","s":"L","usd":-8.00,"eur":-2.62,"gbp":-0.65,"jpy":-0.48,"chf":-0.38,"oth":-0.72},
    {"q":"2009-Q4","s":"L","usd":-8.00,"eur":-2.65,"gbp":-0.65,"jpy":-0.48,"chf":-0.38,"oth":-0.74},
    {"q":"2010-Q1","s":"L","usd":-8.02,"eur":-2.62,"gbp":-0.64,"jpy":-0.48,"chf":-0.37,"oth":-0.77},
    {"q":"2010-Q2","s":"L","usd":-8.00,"eur":-2.55,"gbp":-0.63,"jpy":-0.47,"chf":-0.36,"oth":-0.79},
    {"q":"2010-Q3","s":"L","usd":-8.30,"eur":-2.60,"gbp":-0.66,"jpy":-0.48,"chf":-0.38,"oth":-0.78},
    {"q":"2010-Q4","s":"L","usd":-8.45,"eur":-2.62,"gbp":-0.67,"jpy":-0.50,"chf":-0.38,"oth":-0.88},
    {"q":"2011-Q1","s":"L","usd":-8.50,"eur":-2.58,"gbp":-0.66,"jpy":-0.50,"chf":-0.38,"oth":-0.88},
    {"q":"2011-Q2","s":"L","usd":-8.50,"eur":-2.55,"gbp":-0.65,"jpy":-0.50,"chf":-0.38,"oth":-0.92},
    {"q":"2011-Q3","s":"L","usd":-8.55,"eur":-2.50,"gbp":-0.64,"jpy":-0.50,"chf":-0.38,"oth":-0.93},
    {"q":"2011-Q4","s":"L","usd":-8.20,"eur":-2.55,"gbp":-0.62,"jpy":-0.48,"chf":-0.36,"oth":-0.79},
    {"q":"2012-Q1","s":"L","usd":-7.85,"eur":-2.65,"gbp":-0.60,"jpy":-0.46,"chf":-0.34,"oth":-0.70},
    {"q":"2012-Q2","s":"L","usd":-7.65,"eur":-2.70,"gbp":-0.58,"jpy":-0.45,"chf":-0.34,"oth":-0.78},
    {"q":"2012-Q3","s":"L","usd":-7.55,"eur":-2.80,"gbp":-0.58,"jpy":-0.44,"chf":-0.33,"oth":-0.70}
  ]},
  "layer": [
    {
      "layer": [
        {
          "transform": [
            {"fold": ["usd", "eur", "gbp", "jpy", "chf", "oth"], "as": ["code", "v"]},
            {"lookup": "code", "from": {"data": {"name": "cur"}, "key": "code", "fields": ["name", "ord"]}}
          ],
          "mark": {"type": "bar", "strokeWidth": 0.6},
          "encoding": {
            "x": {
              "field": "q",
              "type": "ordinal",
              "scale": {"paddingInner": 0, "paddingOuter": 0},
              "axis": {
                "values": ["1977-Q4","1979-Q2","1980-Q4","1982-Q2","1983-Q4","1985-Q2","1986-Q4","1988-Q2","1989-Q4","1991-Q2","1992-Q4","1994-Q2","1995-Q4","1997-Q2","1998-Q4","2000-Q2","2001-Q4","2003-Q2","2004-Q4","2006-Q2","2007-Q4","2009-Q2","2010-Q4","2012-Q2"],
                "labelAngle": 90,
                "labelAlign": "left",
                "labelBaseline": "middle",
                "labelPadding": 8,
                "labelFont": "DejaVu Sans",
                "labelFontSize": 16,
                "labelColor": "#333333",
                "labelOverlap": false,
                "ticks": false,
                "domain": false,
                "grid": true,
                "gridColor": "#dadada",
                "bandPosition": 0.5,
                "title": ["자료: Global Liquidity, Capital Flows, and Macroprudential Policy—An Asian", "Perspective, 상상인증권 리서치센터"],
                "titleFont": "Noto Sans CJK KR",
                "titleFontSize": 20,
                "titleFontWeight": "normal",
                "titleColor": "#2a2a2a",
                "titleAlign": "left",
                "titleAnchor": "start",
                "titleBaseline": "alphabetic",
                "titleX": -17,
                "titleY": 117,
                "titleLineHeight": 25
              }
            },
            "y": {
              "field": "v",
              "type": "quantitative",
              "stack": "zero",
              "scale": {"domain": [-20, 22], "nice": false, "zero": false},
              "axis": {
                "orient": "right",
                "values": [-20,-19,-18,-17,-16,-15,-14,-13,-12,-11,-10,-9,-8,-7,-6,-5,-4,-3,-2,-1,0,1,2,3,4,5,6,7,8,9,10,11,12,13,14,15,16,17,18,19,20,21,22],
                "labelExpr": "datum.value % 5 === 0 && datum.value <= 20 ? (datum.value < 0 ? '-' : '') + format(abs(datum.value), '.1f') : ''",
                "labelOverlap": false,
                "labelFlush": false,
                "labelFont": "Liberation Sans",
                "labelFontSize": 16,
                "labelColor": "#333333",
                "labelPadding": 12,
                "tickSize": 5,
                "tickColor": "#888888",
                "domainColor": "#777777",
                "domainWidth": 1.5,
                "grid": true,
                "gridColor": "#dadada",
                "title": ["Trillion", "dollars"],
                "titleAngle": 0,
                "titleAlign": "left",
                "titleBaseline": "top",
                "titleX": 70,
                "titleY": 15,
                "titleFont": "Liberation Sans",
                "titleFontSize": 16.5,
                "titleFontWeight": "normal",
                "titleColor": "#333333",
                "titleLineHeight": 25
              }
            },
            "fill": {
              "field": "name",
              "type": "nominal",
              "scale": {
                "domain": ["Other", "Swiss Franc", "Yen", "Sterling", "Euro", "US dollar"],
                "range": ["#e8302a", "#f2d72b", "#243e92", "#bde5ec", "#ef94c9", "#b3ddb0"]
              },
              "legend": {
                "title": null,
                "orient": "none",
                "legendX": 29,
                "legendY": 27,
                "symbolType": "square",
                "symbolSize": 121,
                "symbolStrokeWidth": 0,
                "labelFont": "Liberation Sans",
                "labelFontSize": 17,
                "labelColor": "#222222",
                "labelOffset": 5,
                "rowPadding": 8.8,
                "padding": 6,
                "strokeColor": "#d0d0d0",
                "fillColor": "white"
              }
            },
            "stroke": {
              "field": "name",
              "type": "nominal",
              "scale": {
                "domain": ["Other", "Swiss Franc", "Yen", "Sterling", "Euro", "US dollar"],
                "range": ["#c01f19", "#d9ad12", "#172c70", "#86c8d6", "#cf68a8", "#7cbf78"]
              },
              "legend": null
            },
            "order": {"field": "ord", "type": "quantitative"}
          }
        },
        {
          "data": {"values": [{}]},
          "mark": {"type": "rule", "color": "#3d5c3d", "strokeWidth": 1.5},
          "encoding": {
            "y": {
              "datum": 0,
              "type": "quantitative",
              "axis": {
                "orient": "right",
                "values": [5.95, -5.55],
                "labelExpr": "datum.value > 0 ? 'Assets' : 'Liabilities'",
                "ticks": false,
                "domain": false,
                "grid": false,
                "offset": 70,
                "labelPadding": 0,
                "labelAlign": "left",
                "labelBaseline": "middle",
                "labelFont": "Liberation Sans",
                "labelFontSize": 19,
                "labelColor": "#3f4d8c",
                "labelOverlap": false,
                "labelFlush": false,
                "title": null
              }
            }
          }
        },
        {
          "data": {"name": "marks"},
          "mark": {"type": "tick", "orient": "vertical", "size": 6, "thickness": 1.2, "color": "#3d5c3d", "opacity": 1},
          "encoding": {
            "x": {"field": "q", "type": "ordinal"},
            "y": {"datum": -0.28, "type": "quantitative", "axis": null}
          }
        },
        {
          "data": {"values": [{"q": "2008-Q1", "y": 20.35, "t": "2008Q1"}]},
          "mark": {"type": "point", "shape": "M-1,-0.43L1,-0.43L1,0.43L-1,0.43Z", "size": 3364, "filled": true, "fill": "white", "stroke": "#c8c8c8", "strokeWidth": 1, "opacity": 1},
          "encoding": {
            "x": {"field": "q", "type": "ordinal"},
            "y": {"field": "y", "type": "quantitative", "axis": null}
          }
        },
        {
          "data": {"values": [{"q": "2008-Q1", "y": 20.35, "t": "2008Q1"}]},
          "mark": {"type": "text", "font": "Liberation Sans", "fontSize": 14, "color": "#333333", "baseline": "middle", "align": "center"},
          "encoding": {
            "x": {"field": "q", "type": "ordinal"},
            "y": {"field": "y", "type": "quantitative", "axis": null},
            "text": {"field": "t"}
          }
        }
      ],
      "resolve": {"axis": {"y": "independent"}}
    },
    {
      "data": {"values": [{"s": 0}, {"s": 1}]},
      "mark": {"type": "rule", "opacity": 0},
      "encoding": {
        "y": {
          "field": "s",
          "type": "quantitative",
          "scale": {"domain": [0, 1], "range": [516, -12]},
          "axis": {
            "orient": "left",
            "offset": -812,
            "values": [0, 1],
            "tickSize": 852,
            "tickColor": "#b0b0b0",
            "tickWidth": 2,
            "labels": false,
            "domain": false,
            "grid": false,
            "title": null
          }
        }
      }
    }
  ],
  "resolve": {"scale": {"y": "independent"}}
}
